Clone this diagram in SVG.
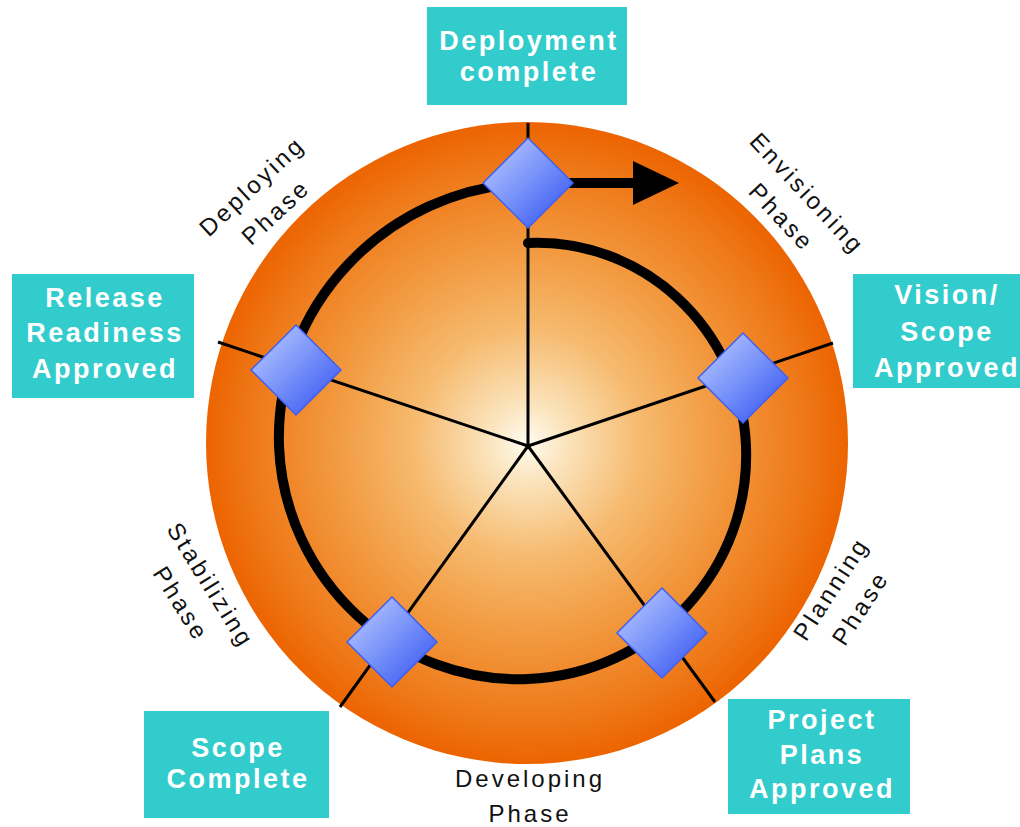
<svg xmlns="http://www.w3.org/2000/svg" width="1020" height="827" viewBox="0 0 1020 827">
  <defs>
    <radialGradient id="disc" cx="50%" cy="50%" r="50%">
      <stop offset="0" stop-color="#fffbf0"/>
      <stop offset="0.12" stop-color="#fbe4bd"/>
      <stop offset="0.35" stop-color="#f6bb70"/>
      <stop offset="0.6" stop-color="#f29a40"/>
      <stop offset="0.85" stop-color="#ef7a1a"/>
      <stop offset="1" stop-color="#ec6400"/>
    </radialGradient>
    <linearGradient id="gem" x1="0" y1="0" x2="1" y2="1">
      <stop offset="0" stop-color="#c4d0ff"/>
      <stop offset="0.45" stop-color="#7e98fa"/>
      <stop offset="1" stop-color="#2c4cf0"/>
    </linearGradient>
    <marker id="head" markerUnits="userSpaceOnUse" markerWidth="48" markerHeight="44" refX="3" refY="22" orient="auto">
      <path d="M0,0 L46,22 L0,44 Z" fill="#000"/>
    </marker>
    <style>
      .box { fill: #33cccc; }
      .btxt { font-family: "Liberation Sans", Arial, sans-serif; font-weight: bold; font-size: 27px; fill: #ffffff; text-anchor: middle; letter-spacing: 2.5px; }
      .ptxt { font-family: "Liberation Sans", Arial, sans-serif; font-size: 24px; fill: #111111; text-anchor: middle; letter-spacing: 3px; }
      .spoke { stroke: #000; stroke-width: 3; fill: none; }
      .ring { stroke: #000; stroke-width: 10; fill: none; stroke-linecap: round; }
      .gem { fill: url(#gem); stroke: #3f5ff2; stroke-width: 1.5; }
    </style>
  </defs>

  <g id="disc-bg">
    <circle cx="527" cy="443" r="321" fill="url(#disc)"/>
  </g>

  <g id="connectors">
    <line class="spoke" x1="528" y1="446" x2="528" y2="123"/>
    <line class="spoke" x1="528" y1="446" x2="833" y2="343"/>
    <line class="spoke" x1="528" y1="446" x2="715" y2="702"/>
    <line class="spoke" x1="528" y1="446" x2="340" y2="707"/>
    <line class="spoke" x1="528" y1="446" x2="218" y2="342"/>
    <path class="ring" marker-end="url(#head)" d="M528,243 A207,207 0 0 1 676.8,297.2 A214,214 0 0 1 746,446 A222,222 0 0 1 687.5,605.5 A229,229 0 0 1 528,679 A237,237 0 0 1 357.9,616.1 A244,244 0 0 1 279,446 A252,252 0 0 1 347.3,265.3 A259,259 0 0 1 528,183 L636,183"/>
  </g>

  <g id="milestone-deployment">
    <polygon class="gem" points="528,138 573,183 528,228 483,183"/>
  </g>
  <g id="milestone-vision">
    <polygon class="gem" points="743,333 788,378 743,423 698,378"/>
  </g>
  <g id="milestone-plans">
    <polygon class="gem" points="662,588 707,633 662,678 617,633"/>
  </g>
  <g id="milestone-scope">
    <polygon class="gem" points="392,597 437,642 392,687 347,642"/>
  </g>
  <g id="milestone-release">
    <polygon class="gem" points="296,325 341,370 296,415 251,370"/>
  </g>

  <g id="box-deployment">
    <rect class="box" x="427" y="7" width="200" height="98"/>
    <text class="btxt" x="529" y="50">Deployment</text>
    <text class="btxt" x="529" y="81">complete</text>
  </g>
  <g id="box-release">
    <rect class="box" x="12" y="274" width="182" height="124"/>
    <text class="btxt" x="105" y="307">Release</text>
    <text class="btxt" x="105" y="342">Readiness</text>
    <text class="btxt" x="105" y="378">Approved</text>
  </g>
  <g id="box-vision">
    <rect class="box" x="853" y="274" width="167" height="114"/>
    <text class="btxt" x="947" y="304">Vision/</text>
    <text class="btxt" x="947" y="341">Scope</text>
    <text class="btxt" x="947" y="377">Approved</text>
  </g>
  <g id="box-plans">
    <rect class="box" x="728" y="699" width="182" height="115"/>
    <text class="btxt" x="822" y="729">Project</text>
    <text class="btxt" x="822" y="764">Plans</text>
    <text class="btxt" x="822" y="798">Approved</text>
  </g>
  <g id="box-scope">
    <rect class="box" x="144" y="711" width="185" height="107"/>
    <text class="btxt" x="238" y="757">Scope</text>
    <text class="btxt" x="238" y="788">Complete</text>
  </g>

  <g id="phase-envisioning" transform="translate(794,204.5) rotate(47)">
    <text class="ptxt" x="1" y="-9">Envisioning</text>
    <text class="ptxt" x="1" y="26">Phase</text>
  </g>
  <g id="phase-planning" transform="translate(845,599) rotate(-57)">
    <text class="ptxt" x="1" y="-9">Planning</text>
    <text class="ptxt" x="1" y="26">Phase</text>
  </g>
  <g id="phase-developing">
    <text class="ptxt" x="530" y="787">Developing</text>
    <text class="ptxt" x="530" y="822">Phase</text>
  </g>
  <g id="phase-stabilizing" transform="translate(195.5,593.5) rotate(58)">
    <text class="ptxt" x="1" y="-9">Stabilizing</text>
    <text class="ptxt" x="1" y="26">Phase</text>
  </g>
  <g id="phase-deploying" transform="translate(263,199.5) rotate(-43)">
    <text class="ptxt" x="1" y="-9">Deploying</text>
    <text class="ptxt" x="1" y="26">Phase</text>
  </g>
</svg>
